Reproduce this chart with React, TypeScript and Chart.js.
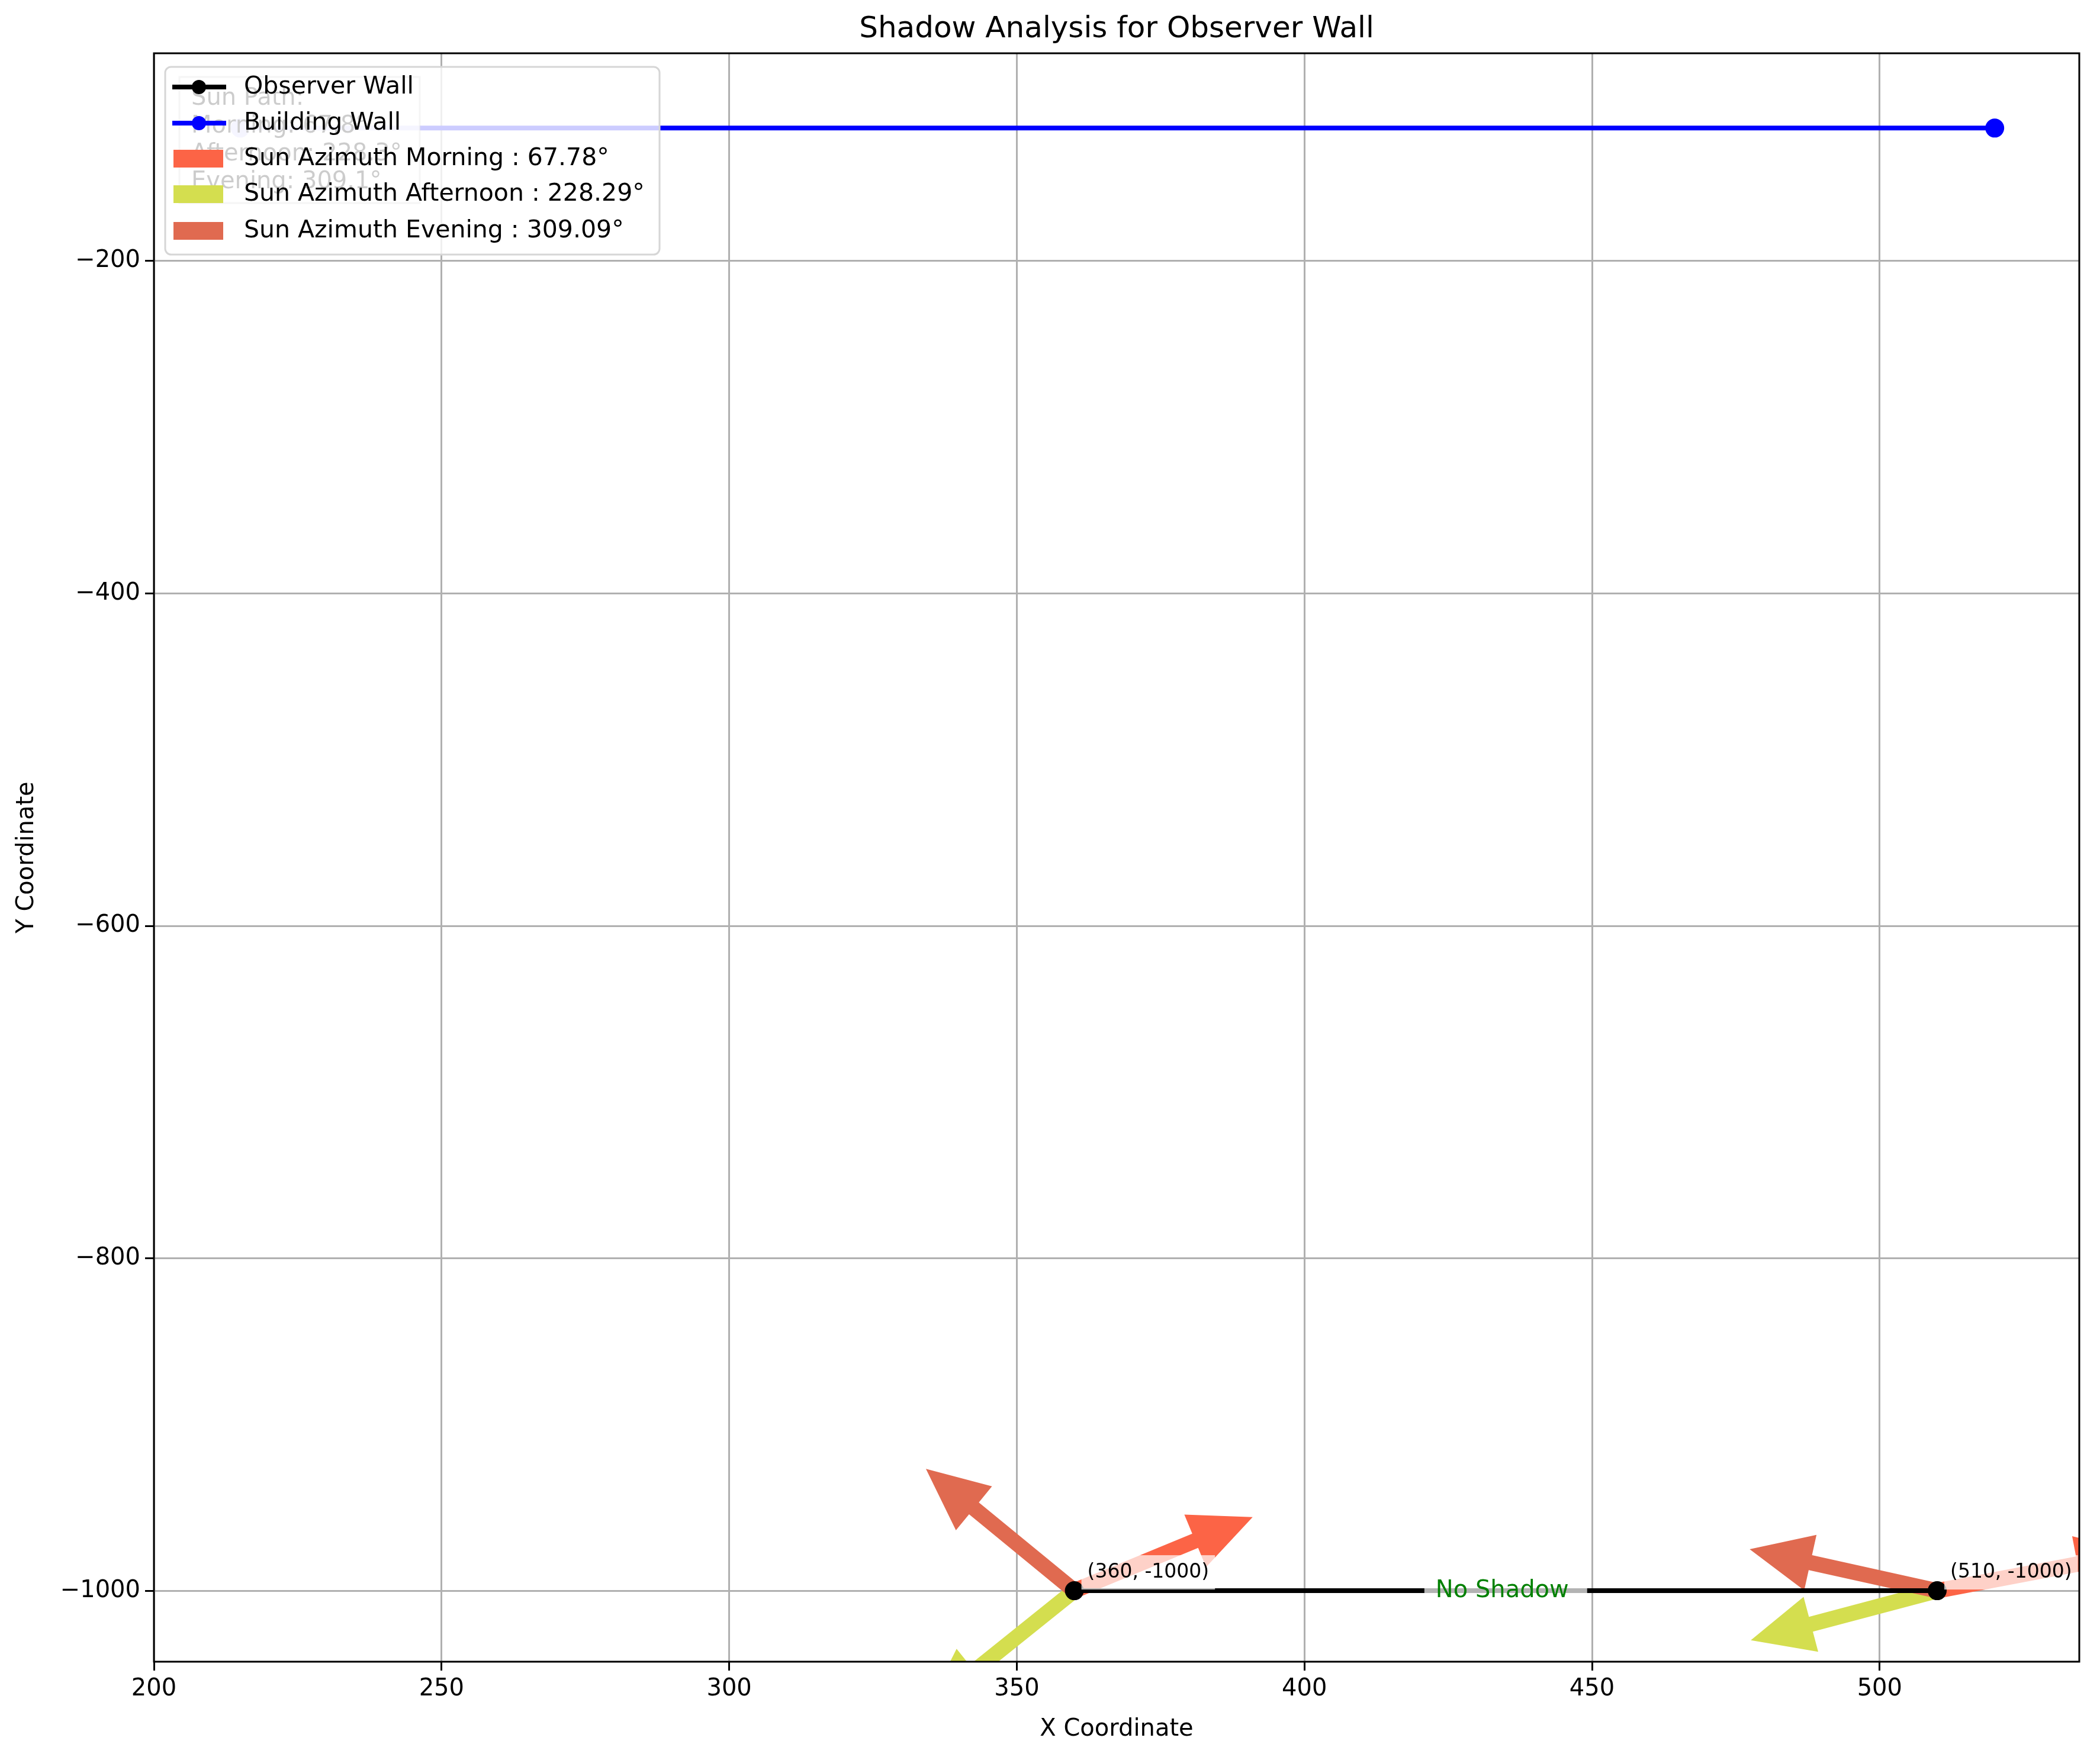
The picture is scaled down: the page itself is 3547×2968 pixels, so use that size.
import React, { useEffect, useRef } from "react";
import { Chart, registerables } from "chart.js";

Chart.register(...registerables);

const observerX = [360, 510];
const observerY = [-1000, -1000];
const buildingX = [215, 520];
const buildingY = [-120, -120];
const xTicks = [200, 250, 300, 350, 400, 450, 500];
const yTicks = [-200, -400, -600, -800, -1000];

const arrowNames = ["Sun Azimuth Morning : 67.78°", "Sun Azimuth Afternoon : 228.29°", "Sun Azimuth Evening : 309.09°"];
const arrowColors = ["#FC6446", "#D4DE4F", "#E06A50"];
const morningU = [31, 35];
const morningV = [44.3, 23];
const afternoonU = [-25.8, -32.4];
const afternoonV = [-71.7, -29.8];
const eveningU = [-25.8, -32.6];
const eveningV = [73.3, 25];
const sunPathLines = ["Sun Path:", "Morning: 67.8°", "Afternoon: 228.3°", "Evening: 309.1°"];

const FONT = "DejaVu Sans";

function drawArrow(ctx: CanvasRenderingContext2D, x0: number, y0: number, x1: number, y1: number, color: string) {
  const dx = x1 - x0, dy = y1 - y0;
  const len = Math.hypot(dx, dy);
  const ux = dx / len, uy = dy / len, px = -uy, py = ux;
  const w = 13, hw = 48, hl = 105;
  const bx = x1 - ux * hl, by = y1 - uy * hl;
  ctx.fillStyle = color;
  ctx.beginPath();
  ctx.moveTo(x0 + px * w, y0 + py * w);
  ctx.lineTo(bx + px * w, by + py * w);
  ctx.lineTo(bx + px * hw, by + py * hw);
  ctx.lineTo(x1, y1);
  ctx.lineTo(bx - px * hw, by - py * hw);
  ctx.lineTo(bx - px * w, by - py * w);
  ctx.lineTo(x0 - px * w, y0 - py * w);
  ctx.closePath();
  ctx.fill();
}

const overlay = {
  id: "overlay",
  beforeDatasetsDraw(chart: any) {
    const { ctx, chartArea: a, scales } = chart;
    const xs = scales.x, ys = scales.y;
    ctx.save();
    ctx.beginPath();
    ctx.rect(a.left, a.top, a.right - a.left, a.bottom - a.top);
    ctx.clip();
    const sets = [[morningU, morningV], [afternoonU, afternoonV], [eveningU, eveningV]];
    observerX.forEach((ox, i) => {
      sets.forEach(([u, v], k) => {
        const x0 = xs.getPixelForValue(ox), y0 = ys.getPixelForValue(observerY[i]);
        const x1 = xs.getPixelForValue(ox + u[i]), y1 = ys.getPixelForValue(observerY[i] + v[i]);
        drawArrow(ctx, x0, y0, x1, y1, arrowColors[k]);
      });
    });
    ctx.restore();
  },
  afterDraw(chart: any) {
    const { ctx, chartArea: a, scales } = chart;
    const xs = scales.x, ys = scales.y;
    ctx.save();
    // point annotations
    ctx.font = `33px ${FONT}`;
    ctx.textBaseline = "alphabetic";
    observerX.forEach((ox, i) => {
      const px = xs.getPixelForValue(ox) + 22, py = ys.getPixelForValue(observerY[i]) - 22;
      const t = `(${ox}, ${observerY[i]})`;
      const tw = ctx.measureText(t).width;
      ctx.fillStyle = "rgba(255,255,255,0.7)";
      ctx.fillRect(px - 10, py - 38, tw + 20, 58);
      ctx.fillStyle = "#000";
      ctx.fillText(t, px, py);
    });
    // No Shadow
    ctx.font = `40px ${FONT}`;
    const mx = xs.getPixelForValue((observerX[0] + observerX[1]) / 2), my = ys.getPixelForValue(observerY[0]);
    const nt = "No Shadow";
    const nw = ctx.measureText(nt).width;
    ctx.fillStyle = "rgba(255,255,255,0.7)";
    ctx.fillRect(mx - nw / 2 - 25, my - 28, nw + 50, 56);
    ctx.fillStyle = "green";
    ctx.textAlign = "center";
    ctx.textBaseline = "middle";
    ctx.fillText(nt, mx - 6, my);
    // sun path box
    ctx.textAlign = "left";
    ctx.fillStyle = "rgba(255,255,255,0.8)";
    ctx.fillRect(303, 130, 406, 213);
    ctx.strokeStyle = "rgba(128,128,128,0.4)";
    ctx.lineWidth = 3;
    ctx.strokeRect(303, 130, 406, 213);
    ctx.font = `40px ${FONT}`;
    ctx.fillStyle = "#000";
    sunPathLines.forEach((l, i) => ctx.fillText(l, 323, 167 + i * 47));
    // legend
    ctx.fillStyle = "rgba(255,255,255,0.8)";
    ctx.beginPath();
    ctx.roundRect(279, 113, 835, 317, 10);
    ctx.fill();
    ctx.strokeStyle = "#d6d6d6";
    ctx.lineWidth = 3;
    ctx.stroke();
    ctx.font = `41px ${FONT}`;
    const rows = [147, 208, 268, 328, 390];
    const lineItems = [["Observer Wall", "#000"], ["Building Wall", "#0000ff"]];
    lineItems.forEach(([label, c], i) => {
      ctx.strokeStyle = c;
      ctx.lineWidth = 8;
      ctx.beginPath();
      ctx.moveTo(291, rows[i]);
      ctx.lineTo(382, rows[i]);
      ctx.stroke();
      ctx.fillStyle = c;
      ctx.beginPath();
      ctx.arc(336, rows[i], 12, 0, Math.PI * 2);
      ctx.fill();
      ctx.fillStyle = "#000";
      ctx.fillText(label, 412, rows[i]);
    });
    arrowNames.forEach((label, k) => {
      const y = rows[k + 2];
      ctx.fillStyle = arrowColors[k];
      ctx.fillRect(293, y - 15, 84, 30);
      ctx.fillStyle = "#000";
      ctx.fillText(label, 412, y);
    });
    // title
    ctx.font = `50px ${FONT}`;
    ctx.textAlign = "center";
    ctx.fillText("Shadow Analysis for Observer Wall", (a.left + a.right) / 2, 50);
    // spines
    ctx.strokeStyle = "#000";
    ctx.lineWidth = 3;
    ctx.strokeRect(a.left, a.top, a.right - a.left, a.bottom - a.top);
    ctx.restore();
  },
};

const fmt = (v: number) => (v < 0 ? "\u2212" + Math.abs(v) : String(v));

export default function App() {
  const ref = useRef<HTMLCanvasElement | null>(null);
  useEffect(() => {
    document.body.style.margin = "0";
    let chart: Chart | null = null;
    const ctx = ref.current?.getContext("2d");
    if (ctx) {
      chart = new Chart(ctx, {
        type: "scatter",
        data: {
          datasets: [
            {
              label: "Observer Wall",
              data: observerX.map((x, i) => ({ x, y: observerY[i] })),
              showLine: true,
              borderColor: "#000",
              backgroundColor: "#000",
              borderWidth: 8,
              pointRadius: 12,
            },
            {
              label: "Building Wall",
              data: buildingX.map((x, i) => ({ x, y: buildingY[i] })),
              showLine: true,
              borderColor: "#0000ff",
              backgroundColor: "#0000ff",
              borderWidth: 8,
              pointRadius: 12,
            },
          ],
        },
        options: {
          animation: false,
          responsive: false,
          devicePixelRatio: 1,
          layout: { padding: { top: 90, right: 35, left: 22, bottom: 22 } },
          plugins: { legend: { display: false }, tooltip: { enabled: false } },
          scales: {
            x: {
              type: "linear",
              min: 200,
              max: 534.7,
              afterBuildTicks: (s: any) => { s.ticks = xTicks.map((v) => ({ value: v })); },
              afterFit: (s: any) => { s.height = 139; },
              ticks: { color: "#000", font: { family: FONT, size: 40 }, padding: 8, callback: (v: any) => fmt(Number(v)) },
              grid: { color: "#b0b0b0", lineWidth: 3, tickColor: "#000", tickLength: 15 },
              border: { display: false },
              title: { display: true, text: "X Coordinate", color: "#000", font: { family: FONT, size: 40 }, padding: 0 },
            },
            y: {
              type: "linear",
              min: -1042.7,
              max: -75,
              afterBuildTicks: (s: any) => { s.ticks = yTicks.map((v) => ({ value: v })); },
              afterFit: (s: any) => { s.width = 238; },
              ticks: { color: "#000", font: { family: FONT, size: 40 }, padding: 8, callback: (v: any) => fmt(Number(v)) },
              grid: { color: "#b0b0b0", lineWidth: 3, tickColor: "#000", tickLength: 15 },
              border: { display: false },
              title: { display: true, text: "Y Coordinate", color: "#000", font: { family: FONT, size: 40 }, padding: 0 },
            },
          },
        },
        plugins: [overlay],
      });
    }
    return () => {
      if (chart) chart.destroy();
    };
  }, []);
  return <canvas ref={ref} width={3547} height={2968} style={{ display: "block" }} />;
}
